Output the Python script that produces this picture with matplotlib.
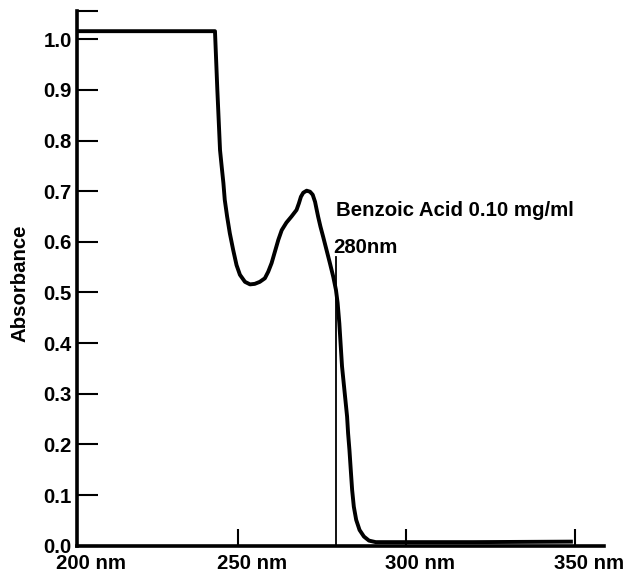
import matplotlib
matplotlib.use("Agg")
import matplotlib.pyplot as plt
from matplotlib.transforms import ScaledTranslation

plt.rcParams['font.family'] = ['Liberation Sans', 'DejaVu Sans']
plt.rcParams['font.weight'] = 'bold'
plt.rcParams['axes.labelweight'] = 'bold'
plt.rcParams['font.size'] = 14.7

# Benzoic acid UV spectrum
wavelength = [202.4, 243.2, 243.9, 244.7, 245.2, 245.7, 246.1, 246.8, 247.6,
              248.6, 249.6, 250.6, 252.1, 253.6, 255.0, 256.5, 258.0, 259.0,
              260.0, 261.0, 262.0, 263.0, 264.4, 265.9, 267.4, 268.1, 268.7,
              269.4, 270.4, 271.4, 272.2, 272.9, 273.3, 273.8, 274.5, 275.3,
              276.3, 277.3, 278.3, 279.1, 279.6, 280.1, 280.9, 281.4, 281.9,
              282.4, 282.7, 283.1, 283.5, 283.9, 284.4, 285.1, 286.1, 287.4,
              288.9, 290.9, 300.0, 320.0, 349.4]
absorbance = [1.016, 1.016, 0.900, 0.781, 0.748, 0.716, 0.683, 0.650, 0.617,
              0.584, 0.554, 0.535, 0.521, 0.516, 0.517, 0.521, 0.528, 0.541,
              0.558, 0.581, 0.604, 0.623, 0.638, 0.650, 0.663, 0.676, 0.689,
              0.697, 0.701, 0.699, 0.693, 0.679, 0.666, 0.650, 0.630, 0.610,
              0.584, 0.558, 0.531, 0.505, 0.479, 0.439, 0.354, 0.321, 0.288,
              0.255, 0.222, 0.189, 0.149, 0.110, 0.077, 0.051, 0.031, 0.018,
              0.010, 0.007, 0.007, 0.007, 0.008]

yticks = [0.0, 0.1, 0.2, 0.3, 0.4, 0.5, 0.6, 0.7, 0.8, 0.9, 1.0]
xticks = [250, 300, 350]
xlabels = ["250 nm", "300 nm", "350 nm"]
marker_nm = 279
marker_top = 0.570

fig = plt.figure(figsize=(6.31, 5.75), dpi=100)
ax = fig.add_axes([0.1228, 0.051, 0.957 - 0.1228, 0.981 - 0.051])

ax.plot(wavelength, absorbance, color='black', lw=2.8, solid_joinstyle='round',
        solid_capstyle='butt', zorder=3)
ax.plot([marker_nm, marker_nm], [0, marker_top], color='black', lw=1.3)

ax.set_xlim(202.4, 358.6)
ax.set_ylim(0, 1.056)

for side in ['top', 'right']:
    ax.spines[side].set_visible(False)
for side in ['left', 'bottom']:
    ax.spines[side].set_linewidth(2.6)

# y ticks, plus an unlabelled cap tick at the top of the axis
ax.set_yticks(yticks + [1.056])
ax.set_yticklabels([f"{v:.1f}" for v in yticks] + [""])
ax.tick_params(axis='y', direction='in', length=15, width=1.5, pad=4)

ax.set_xticks(xticks)
ax.set_xticklabels(xlabels)
ax.tick_params(axis='x', direction='in', length=12, width=1.5, pad=6)
shift = ScaledTranslation(14 / 100, 0, fig.dpi_scale_trans)
for lab in ax.get_xticklabels():
    lab.set_transform(lab.get_transform() + shift)
ax.text(0, 0, "200 nm", transform=ax.transAxes + shift
        + ScaledTranslation(0, -6 / 72, fig.dpi_scale_trans),
        ha='center', va='top')

ax.set_ylabel("Absorbance")
ax.yaxis.set_label_coords(-0.092, 0.49)

ax.text(279.1, 0.651, "Benzoic Acid 0.10 mg/ml", ha='left', va='baseline')
ax.text(278.2, 0.578, "280nm", ha='left', va='baseline')

fig.savefig("out.png", dpi=100)
